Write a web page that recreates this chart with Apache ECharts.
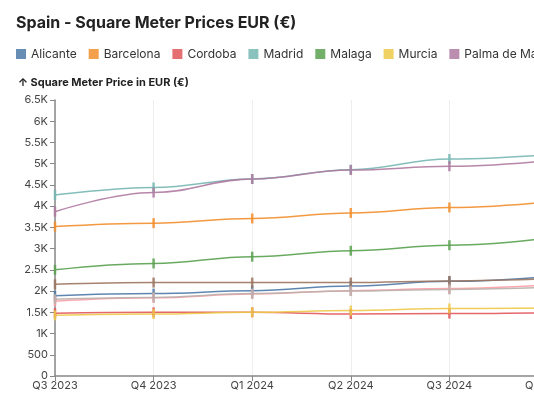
<!DOCTYPE html>
<html>
<head>
<meta charset="utf-8">
<script src="https://cdn.jsdelivr.net/npm/echarts@6/dist/echarts.min.js"></script>
<style>
  html, body { margin: 0; padding: 0; overflow: hidden; background: #fff; }
  #chart { width: 600px; height: 400px; }
</style>
</head>
<body>
<div id="chart"></div>
<script>
const quarters = ['Q3 2023', 'Q4 2023', 'Q1 2024', 'Q2 2024', 'Q3 2024', 'Q4 2024'];
const cities = ['Alicante', 'Barcelona', 'Cordoba', 'Madrid', 'Malaga', 'Murcia', 'Palma de Mallorca', 'Sevilla', 'Valencia', 'Zaragoza'];
const alicante = [1890, 1940, 2010, 2120, 2230, 2340];
const barcelona = [3520, 3600, 3710, 3840, 3970, 4100];
const cordoba = [1480, 1500, 1500, 1460, 1470, 1490];
const madrid = [4260, 4440, 4640, 4860, 5110, 5210];
const malaga = [2500, 2650, 2810, 2950, 3080, 3250];
const murcia = [1430, 1460, 1500, 1540, 1590, 1600];
const palma = [3870, 4320, 4640, 4850, 4940, 5070];
const sevilla = [1760, 1840, 1930, 2010, 2060, 2150];
const valencia = [2160, 2200, 2200, 2200, 2240, 2290];
const zaragoza = [1810, 1850, 1940, 2000, 2040, 2090];
const values = [alicante, barcelona, cordoba, madrid, malaga, murcia, palma, sevilla, valencia, zaragoza];

const colors = ['#4e79a7', '#f28e2c', '#e15759', '#76b7b2', '#59a14f', '#edc949', '#af7aa1', '#ff9da7', '#9c755f', '#bab0ab'];

let chart = echarts.init(document.getElementById('chart'));

chart.setOption({
  animation: false,
  color: colors,
  textStyle: { fontFamily: 'Inter, sans-serif' },
  title: {
    text: 'Spain - Square Meter Prices EUR (€)',
    left: 11,
    top: 10,
    textStyle: { fontSize: 16, fontWeight: 'bold', color: '#222' }
  },
  legend: {
    left: 11,
    top: 43,
    width: 1200,
    icon: 'rect',
    itemWidth: 10,
    itemHeight: 10,
    itemGap: 12,
    textStyle: { fontSize: 12, color: '#333' },
    data: cities
  },
  grid: {
    left: 55,
    right: 52,
    top: 100,
    bottom: 24,
    containLabel: false
  },
  xAxis: {
    type: 'category',
    data: quarters,
    boundaryGap: false,
    axisLine: { lineStyle: { color: '#888', width: 1.5 } },
    axisTick: { alignWithLabel: true, length: 5, lineStyle: { color: '#888' } },
    axisLabel: { fontSize: 11, color: '#444', margin: 4 },
    splitLine: { show: true, lineStyle: { color: '#eee' } }
  },
  yAxis: {
    type: 'value',
    min: 0,
    max: 6500,
    interval: 500,
    name: '↑ Square Meter Price in EUR (€)',
    nameLocation: 'end',
    nameGap: 0,
    nameTextStyle: { align: 'left', verticalAlign: 'bottom', fontSize: 11, fontWeight: 'bold', color: '#222', padding: [0, 0, 12, -37] },
    axisLine: { show: true, lineStyle: { color: '#888', width: 1.5 } },
    axisTick: { show: true, length: 5, lineStyle: { color: '#888' } },
    axisLabel: {
      fontSize: 11,
      color: '#444',
      margin: 7,
      formatter: v => v >= 1000 ? (v / 1000) + 'K' : String(v)
    },
    splitLine: { show: false }
  },
  series: cities.map((name, i) => ({
    name: name,
    type: 'line',
    data: values[i],
    smooth: 0.4,
    smoothMonotone: 'x',
    symbol: 'rect',
    symbolSize: [2.5, 10],
    showSymbol: true,
    lineStyle: { width: 1.5, opacity: 0.9 },
    itemStyle: { opacity: 0.85 }
  }))
});
</script>
</body>
</html>
